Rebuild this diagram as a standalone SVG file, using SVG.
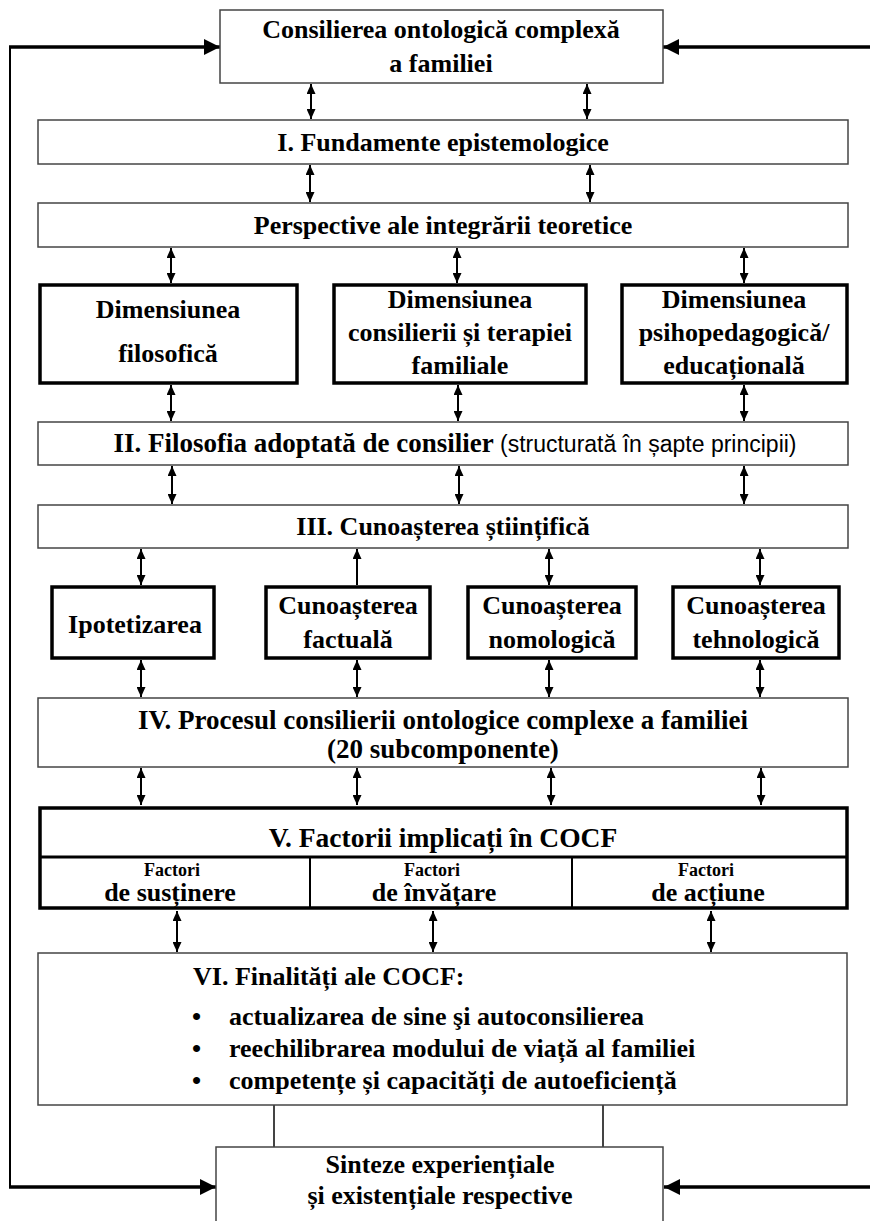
<svg xmlns="http://www.w3.org/2000/svg" width="870" height="1221" viewBox="0 0 870 1221">
<defs>
<marker id="ah" markerUnits="userSpaceOnUse" markerWidth="10" markerHeight="9" refX="10" refY="4.5" orient="auto-start-reverse"><path d="M0,0 L10,4.5 L0,9 z" fill="#000"/></marker>
<marker id="big" markerUnits="userSpaceOnUse" markerWidth="16" markerHeight="16" refX="16" refY="8" orient="auto"><path d="M0,0 L16,8 L0,16 z" fill="#000"/></marker>
</defs>
<style>
.thin{fill:#fff;stroke:#444;stroke-width:1.5}
.thick{fill:#fff;stroke:#000;stroke-width:3.5}
.t{font-family:"Liberation Serif","Times New Roman",serif;font-weight:bold;font-size:26px;fill:#000;text-anchor:middle}
.s{font-family:"Liberation Serif","Times New Roman",serif;font-weight:bold;font-size:18px;fill:#000;text-anchor:middle}
.m{font-family:"Liberation Serif","Times New Roman",serif;font-weight:bold;font-size:26px;fill:#000;text-anchor:middle}
.l{font-family:"Liberation Serif","Times New Roman",serif;font-weight:bold;font-size:26px;fill:#000}
.n{font-family:"Liberation Sans",Arial,sans-serif;font-weight:normal;font-size:23px}
.a{stroke:#000;stroke-width:2;fill:none;marker-start:url(#ah);marker-end:url(#ah)}
.u{stroke:#000;stroke-width:2;fill:none;marker-end:url(#ah)}
.f{stroke:#000;stroke-width:3.5;fill:none;marker-end:url(#big)}
.c{stroke:#444;stroke-width:2;fill:none}
</style>

<g id="connectors">
<line x1="10" y1="47" x2="10" y2="1187" stroke="#000" stroke-width="2"/>
<line class="f" x1="9" y1="47" x2="220" y2="47"/>
<line class="f" x1="870" y1="47" x2="663" y2="47"/>
<line class="f" x1="9" y1="1187" x2="216" y2="1187"/>
<line class="f" x1="870" y1="1187" x2="664" y2="1187"/>
<line class="a" x1="311" y1="84" x2="311" y2="119"/>
<line class="a" x1="587" y1="84" x2="587" y2="119"/>
<line class="a" x1="310" y1="165" x2="310" y2="202"/>
<line class="a" x1="590" y1="165" x2="590" y2="202"/>
<line class="a" x1="171" y1="248" x2="171" y2="283"/>
<line class="a" x1="457" y1="248" x2="457" y2="283"/>
<line class="a" x1="744" y1="248" x2="744" y2="283"/>
<line class="a" x1="171" y1="385" x2="171" y2="421"/>
<line class="a" x1="458" y1="385" x2="458" y2="421"/>
<line class="a" x1="744" y1="385" x2="744" y2="421"/>
<line class="a" x1="172" y1="466" x2="172" y2="504"/>
<line class="a" x1="459" y1="466" x2="459" y2="504"/>
<line class="a" x1="744" y1="466" x2="744" y2="504"/>
<line class="a" x1="141" y1="549" x2="141" y2="585"/>
<line class="u" x1="357" y1="585" x2="357" y2="549"/>
<line class="a" x1="549" y1="549" x2="549" y2="585"/>
<line class="a" x1="760" y1="549" x2="760" y2="585"/>
<line class="a" x1="141" y1="660" x2="141" y2="697"/>
<line class="a" x1="357" y1="660" x2="357" y2="697"/>
<line class="a" x1="549" y1="660" x2="549" y2="697"/>
<line class="a" x1="760" y1="660" x2="760" y2="697"/>
<line class="a" x1="141" y1="768" x2="141" y2="805"/>
<line class="a" x1="357" y1="768" x2="357" y2="805"/>
<line class="a" x1="551" y1="768" x2="551" y2="805"/>
<line class="a" x1="761" y1="768" x2="761" y2="805"/>
<line class="a" x1="177" y1="911" x2="177" y2="952"/>
<line class="a" x1="433" y1="911" x2="433" y2="952"/>
<line class="a" x1="711" y1="911" x2="711" y2="952"/>
<line class="c" x1="274" y1="1105" x2="274" y2="1147"/>
<line class="c" x1="603" y1="1105" x2="603" y2="1147"/>
</g>

<g id="n0">
<rect class="thin" x="220" y="10" width="443" height="73"/>
<text class="t" x="441" y="38">Consilierea ontologică complexă</text>
<text class="t" x="441" y="72">a familiei</text>
</g>
<g id="n1">
<rect class="thin" x="38" y="120" width="810" height="44"/>
<text class="t" x="443" y="151">I. Fundamente epistemologice</text>
</g>
<g id="n2">
<rect class="thin" x="38" y="203" width="810" height="44"/>
<text class="t" x="443" y="234">Perspective ale integrării teoretice</text>
</g>
<g id="n3">
<rect class="thick" x="40" y="285" width="257" height="98"/>
<text class="t" x="168" y="318">Dimensiunea</text>
<text class="t" x="168" y="362">filosofică</text>
</g>
<g id="n4">
<rect class="thick" x="334" y="285" width="252" height="98"/>
<text class="t" x="460" y="308">Dimensiunea</text>
<text class="t" x="460" y="341">consilierii și terapiei</text>
<text class="t" x="460" y="374">familiale</text>
</g>
<g id="n5">
<rect class="thick" x="622" y="285" width="225" height="98"/>
<text class="t" x="734" y="308">Dimensiunea</text>
<text class="t" x="734" y="341">psihopedagogică/</text>
<text class="t" x="734" y="374">educațională</text>
</g>
<g id="n6">
<rect class="thin" x="38" y="422" width="810" height="43"/>
<text class="t" x="455" y="452" style="font-size:27px">II. Filosofia adoptată de consilier <tspan class="n">(structurată în șapte principii)</tspan></text>
</g>
<g id="n7">
<rect class="thin" x="38" y="505" width="810" height="43"/>
<text class="t" x="443" y="535">III. Cunoașterea științifică</text>
</g>
<g id="n8">
<rect class="thick" x="52" y="587" width="162" height="71"/>
<text class="t" x="135" y="633">Ipotetizarea</text>
</g>
<g id="n9">
<rect class="thick" x="266" y="587" width="164" height="71"/>
<text class="t" x="348" y="614">Cunoașterea</text>
<text class="t" x="348" y="648">factuală</text>
</g>
<g id="n10">
<rect class="thick" x="468" y="587" width="168" height="71"/>
<text class="t" x="552" y="614">Cunoașterea</text>
<text class="t" x="552" y="648">nomologică</text>
</g>
<g id="n11">
<rect class="thick" x="673" y="587" width="166" height="71"/>
<text class="t" x="756" y="614">Cunoașterea</text>
<text class="t" x="756" y="648">tehnologică</text>
</g>
<g id="n12">
<rect class="thin" x="38" y="698" width="810" height="69"/>
<text class="t" x="443" y="729" style="font-size:27px">IV. Procesul consilierii ontologice complexe a familiei</text>
<text class="t" x="443" y="758" style="font-size:27px">(20 subcomponente)</text>
</g>
<g id="n13">
<rect class="thick" x="40" y="808" width="807" height="100"/>
<line x1="40" y1="857" x2="847" y2="857" stroke="#000" stroke-width="3"/>
<line x1="310" y1="857" x2="310" y2="908" stroke="#000" stroke-width="2"/>
<line x1="572" y1="857" x2="572" y2="908" stroke="#000" stroke-width="2"/>
<text class="t" x="443" y="847" style="font-size:27.5px">V. Factorii implicați în COCF</text>
<text class="s" x="172" y="876">Factori</text>
<text class="m" x="170" y="901">de susținere</text>
<text class="s" x="432" y="876">Factori</text>
<text class="m" x="434" y="901">de învățare</text>
<text class="s" x="706" y="876">Factori</text>
<text class="m" x="708" y="901">de acțiune</text>
</g>
<g id="n14">
<rect class="thin" x="38" y="953" width="809" height="152"/>
<text class="l" x="193" y="985">VI. Finalități ale COCF:</text>
<text class="l" x="192" y="1025">•</text>
<text class="l" x="229" y="1025">actualizarea de sine şi autoconsilierea</text>
<text class="l" x="192" y="1057">•</text>
<text class="l" x="229" y="1057">reechilibrarea modului de viață al familiei</text>
<text class="l" x="192" y="1089">•</text>
<text class="l" x="229" y="1089">competențe și capacități de autoeficiență</text>
</g>
<g id="n15">
<path class="thin" d="M216,1225 L216,1147 L663,1147 L663,1225"/>
<text class="t" x="440" y="1173">Sinteze experiențiale</text>
<text class="t" x="440" y="1204">și existențiale respective</text>
</g>
</svg>
